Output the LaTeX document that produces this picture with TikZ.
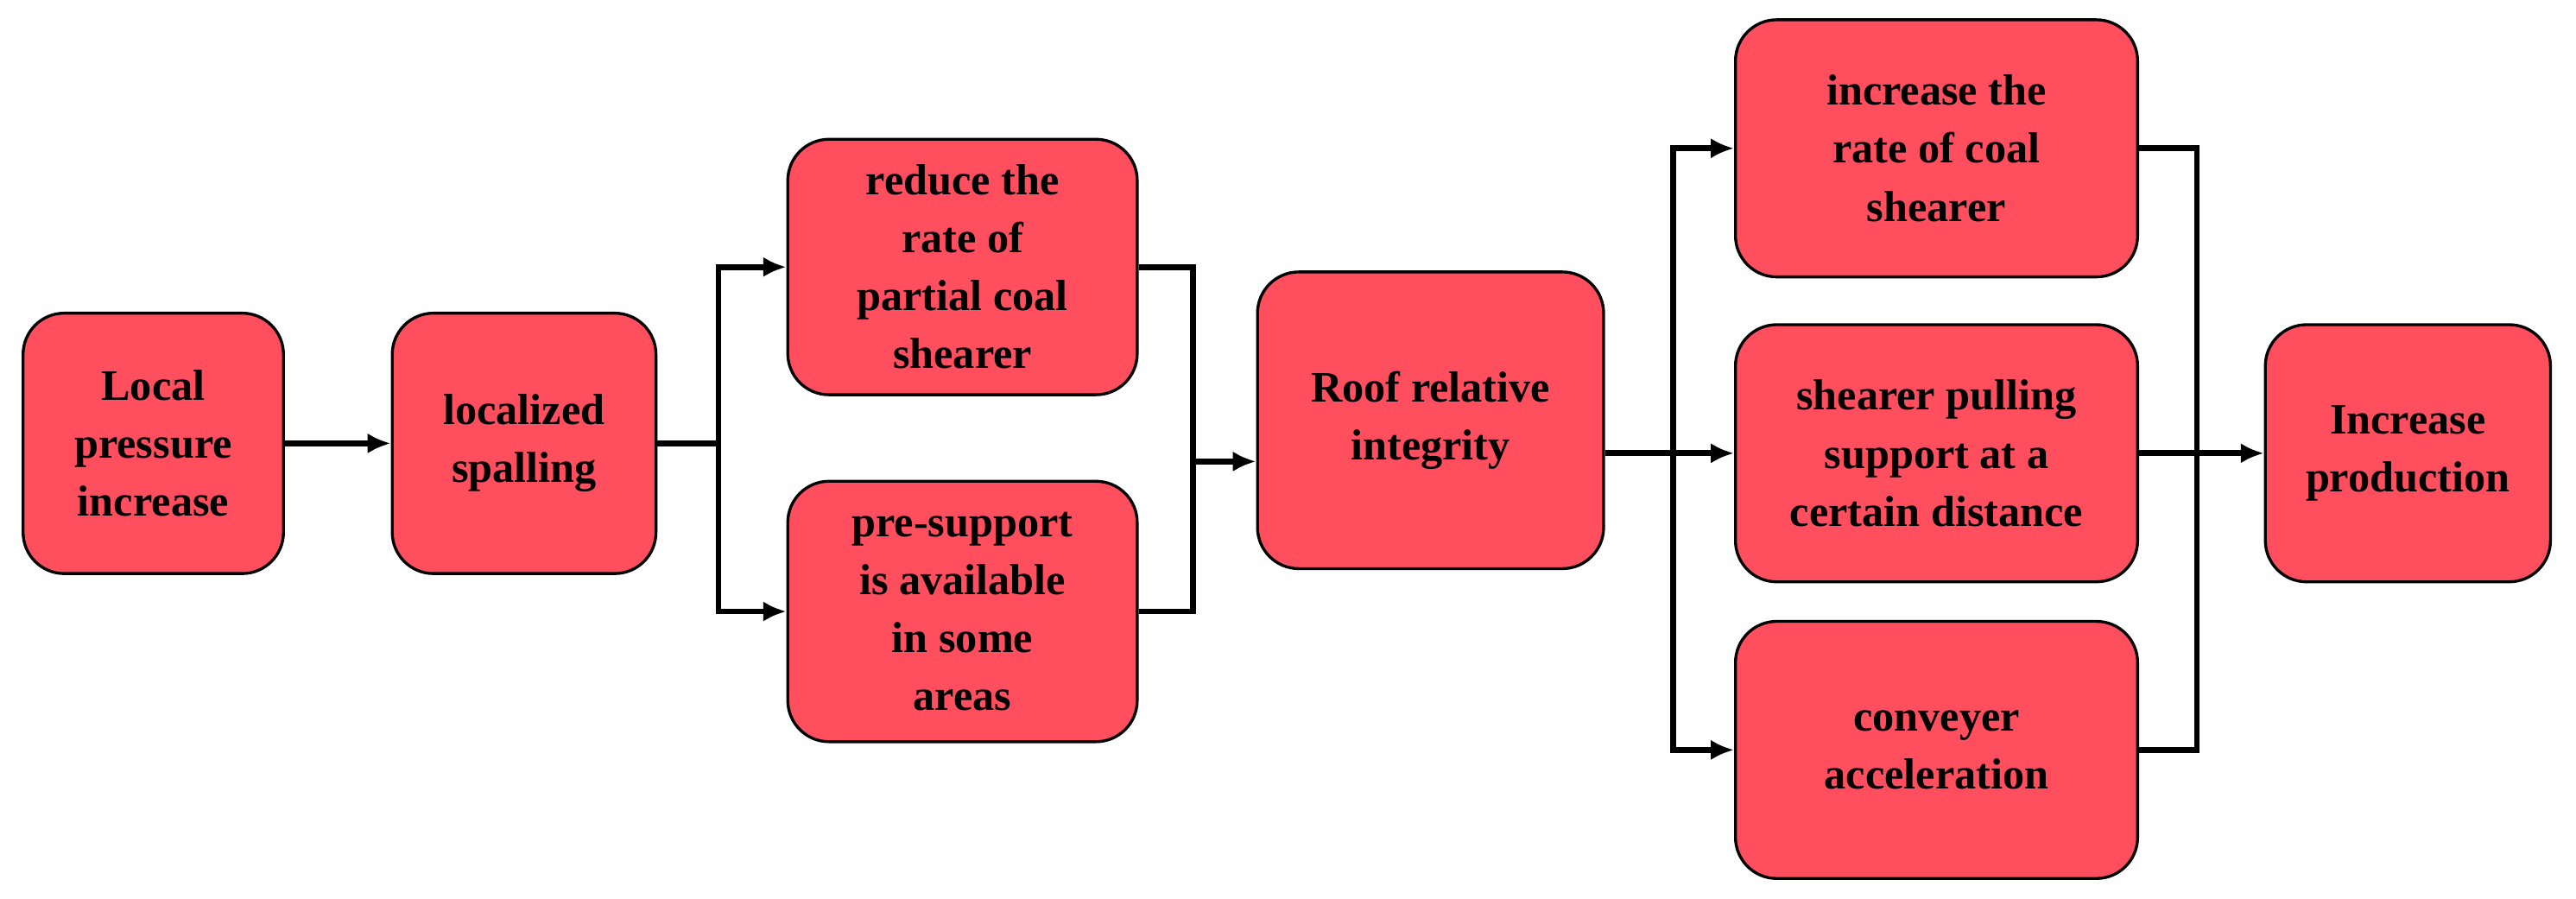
\documentclass[tikz,border=0pt]{standalone}
\usepackage{fontspec}
\setmainfont{Liberation Serif}
\usetikzlibrary{arrows.meta}
\definecolor{boxred}{HTML}{FF4F5F}
\begin{document}
\begin{tikzpicture}[x=0.02cm,y=-0.02cm,
  box/.style={draw=black,line width=1pt,fill=boxred,rounded corners=0.5cm,align=center,
    font=\fontsize{15}{20}\selectfont\bfseries,inner sep=0pt},
  ln/.style={line width=2pt},
  ar/.style={ln,-{Latex[length=8pt,width=7pt]}}]
\useasboundingbox (0,0) rectangle (1563,545);
\node[box,minimum width=158*0.02cm,minimum height=158*0.02cm] (b1) at (93,269) {Local\\pressure\\increase};
\node[box,minimum width=160*0.02cm,minimum height=158*0.02cm] (b2) at (318,269) {localized\\spalling};
\node[box,minimum width=212*0.02cm,minimum height=155*0.02cm] (b3) at (584,162) {reduce the\\rate of\\partial coal\\shearer};
\node[box,minimum width=212*0.02cm,minimum height=158*0.02cm] (b4) at (584,371) {pre-support\\is available\\in some\\areas};
\node[box,minimum width=210*0.02cm,minimum height=180*0.02cm] (b5) at (868,255) {Roof relative\\integrity};
\node[box,minimum width=244*0.02cm,minimum height=156*0.02cm] (b6) at (1175,90) {increase the\\rate of coal\\shearer};
\node[box,minimum width=244*0.02cm,minimum height=156*0.02cm] (b7) at (1175,275) {shearer pulling\\support at a\\certain distance};
\node[box,minimum width=244*0.02cm,minimum height=156*0.02cm] (b8) at (1175,455) {conveyer\\acceleration};
\node[box,minimum width=173*0.02cm,minimum height=156*0.02cm] (b9) at (1461,275) {Increase\\production};
\coordinate (s1) at (436,269);
\coordinate (m1) at (724,280);
\coordinate (s2) at (1015,275);
\coordinate (m2) at (1333,275);
\draw[ar] (b1.east) -- (b2.west);
\draw[ln] (b2.east) -- (s1);
\draw[ar] (s1) |- (b3.west);
\draw[ar] (s1) |- (b4.west);
\draw[ln] (b3.east) -| (m1);
\draw[ln] (b4.east) -| (m1);
\draw[ar] (m1) -- (m1 -| b5.west);
\draw[ln] (b5.east |- s2) -- (s2);
\draw[ar] (s2) |- (b6.west);
\draw[ar] (s2) -- (b7.west);
\draw[ar] (s2) |- (b8.west);
\draw[ln] (b6.east) -| (m2);
\draw[ln] (b8.east) -| (m2);
\draw[ln] (b7.east) -- (m2);
\draw[ar] (m2) -- (b9.west);
\end{tikzpicture}
\end{document}
